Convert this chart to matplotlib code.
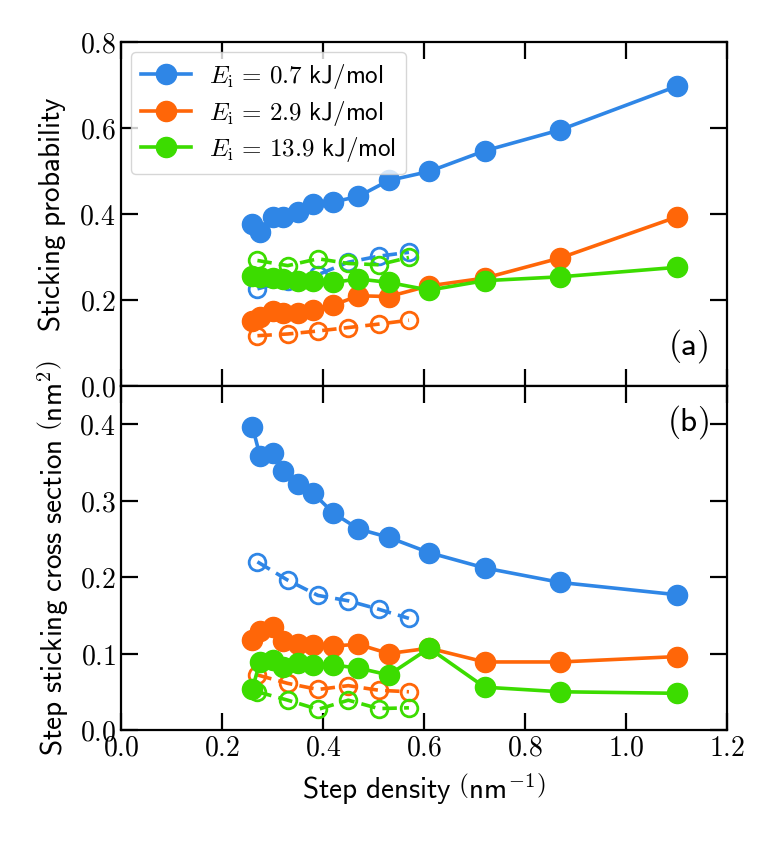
import numpy as np
import matplotlib
matplotlib.use("Agg")
import matplotlib.pyplot as plt
from matplotlib.ticker import FuncFormatter, MultipleLocator

plt.rcParams['mathtext.fontset'] = 'cm'
plt.rcParams['font.family'] = ['Lato', 'DejaVu Sans']

# step densities (nm^-1)
x_full = [0.26, 0.275, 0.30, 0.32, 0.35, 0.38, 0.42, 0.47, 0.53, 0.61, 0.72, 0.87, 1.10]
x_open = [0.27, 0.33, 0.39, 0.45, 0.51, 0.57]

labels = [r'$E_\mathrm{i}\,=\,0.7\ \mathsf{kJ/mol}$',
          r'$E_\mathrm{i}\,=\,2.9\ \mathsf{kJ/mol}$',
          r'$E_\mathrm{i}\,=\,13.9\ \mathsf{kJ/mol}$']
colors = ['#2f86e6', '#ff6608', '#3cdc00']

# (a) sticking probability
prob_full = [
    [0.377, 0.358, 0.393, 0.394, 0.404, 0.424, 0.428, 0.441, 0.478, 0.499, 0.547, 0.596, 0.697],
    [0.152, 0.160, 0.175, 0.169, 0.169, 0.177, 0.188, 0.210, 0.208, 0.233, 0.251, 0.298, 0.393],
    [0.257, 0.253, 0.251, 0.249, 0.245, 0.245, 0.241, 0.249, 0.241, 0.223, 0.245, 0.254, 0.276],
]
prob_open = [
    [0.226, 0.245, 0.259, 0.288, 0.302, 0.311],
    [0.117, 0.121, 0.128, 0.136, 0.144, 0.153],
    [0.292, 0.280, 0.296, 0.285, 0.282, 0.299],
]

# (b) step sticking cross section (nm^2)
cs_full = [
    [0.397, 0.359, 0.363, 0.339, 0.322, 0.310, 0.284, 0.263, 0.252, 0.232, 0.212, 0.193, 0.177],
    [0.118, 0.130, 0.135, 0.117, 0.113, 0.111, 0.110, 0.112, 0.100, 0.107, 0.089, 0.089, 0.096],
    [0.054, 0.089, 0.092, 0.083, 0.087, 0.085, 0.085, 0.081, 0.072, 0.107, 0.056, 0.050, 0.048],
]
cs_open = [
    [0.220, 0.196, 0.176, 0.169, 0.158, 0.146],
    [0.072, 0.061, 0.053, 0.058, 0.052, 0.050],
    [0.050, 0.039, 0.027, 0.039, 0.028, 0.029],
]

fig, (ax1, ax2) = plt.subplots(2, 1, sharex=True, figsize=(7.76, 8.41), dpi=100)
fig.subplots_adjust(left=0.156, right=0.937, top=0.950, bottom=0.132, hspace=0)

for ax, full, opn in [(ax1, prob_full, prob_open), (ax2, cs_full, cs_open)]:
    for i in range(3):
        ax.plot(x_open, opn[i], '--o', color=colors[i], lw=2.6, ms=12,
                mfc='none', mew=2.0, dashes=(4, 2))
    for i in range(3):
        ax.plot(x_full, full[i], '-o', color=colors[i], lw=2.6, ms=14.5,
                label=labels[i])

fmt = FuncFormatter(lambda v, p: r'$%.1f$' % v)
for ax in (ax1, ax2):
    ax.tick_params(direction='in', top=True, right=True, length=12, width=1.6,
                   labelsize=20)
    ax.yaxis.set_major_formatter(fmt)
    ax.xaxis.set_major_formatter(fmt)
    for s in ax.spines.values():
        s.set_linewidth(1.6)

ax1.set_xlim(0, 1.2)
ax1.xaxis.set_major_locator(MultipleLocator(0.2))
ax1.set_ylim(0, 0.8)
ax1.yaxis.set_major_locator(MultipleLocator(0.2))
ax2.set_ylim(0, 0.45)
ax2.yaxis.set_major_locator(MultipleLocator(0.1))

ax1.set_ylabel(r'$\mathsf{Sticking\ probability}$', fontsize=21, labelpad=8)
ax2.set_ylabel(r'$\mathsf{Step\ sticking\ cross\ section}\ \left(\mathsf{nm}^2\right)$',
               fontsize=21, labelpad=6)
ax2.set_xlabel(r'$\mathsf{Step\ density}\ \left(\mathsf{nm}^{-1}\right)$', fontsize=21, labelpad=8)

ax1.text(0.97, 0.06, r'$\mathsf{(a)}$', transform=ax1.transAxes, ha='right', va='bottom', fontsize=24)
ax2.text(0.97, 0.95, r'$\mathsf{(b)}$', transform=ax2.transAxes, ha='right', va='top', fontsize=24)

ax1.legend(loc='upper left', fontsize=18, handlelength=2.0, handletextpad=0.7,
           borderaxespad=0.4, labelspacing=0.3)

plt.savefig('out.png', dpi=100)
